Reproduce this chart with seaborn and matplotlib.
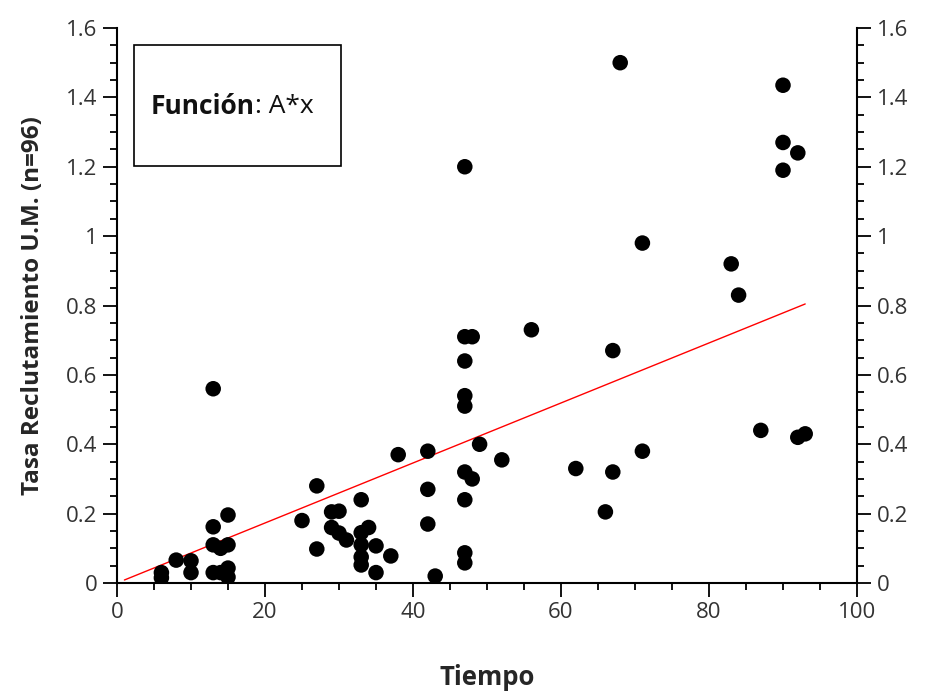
import matplotlib
matplotlib.use("Agg")
import matplotlib.pyplot as plt
import seaborn as sns
import numpy as np
import pandas as pd
from matplotlib.ticker import MultipleLocator, FuncFormatter
from matplotlib.patches import Rectangle

tiempo = [6, 6, 8, 10, 10, 13, 13, 15, 13, 14, 15, 13, 14, 15, 15,
          27, 33, 25, 27, 29, 30, 29, 30, 31, 34, 33, 33, 35, 37, 33, 33, 35,
          38, 42, 42, 42, 43,
          47, 47, 48, 47, 47, 47, 47, 48, 47, 47, 47, 49, 52,
          56, 62, 66, 67, 67, 68, 71, 71,
          83, 84, 87, 90, 90, 92, 90, 92, 93]
tasa = [0.03, 0.015, 0.066, 0.064, 0.03, 0.56, 0.162, 0.196, 0.11, 0.10, 0.11, 0.03, 0.03, 0.043, 0.017,
        0.28, 0.24, 0.18, 0.098, 0.205, 0.207, 0.16, 0.144, 0.124, 0.16, 0.145, 0.11, 0.107, 0.078, 0.075, 0.052, 0.03,
        0.37, 0.38, 0.27, 0.17, 0.02,
        1.20, 0.71, 0.71, 0.64, 0.54, 0.51, 0.32, 0.30, 0.24, 0.087, 0.058, 0.40, 0.355,
        0.73, 0.33, 0.205, 0.67, 0.32, 1.50, 0.98, 0.38,
        0.92, 0.83, 0.44, 1.435, 1.27, 1.24, 1.19, 0.42, 0.43]

coef_A = 0.00865
fit_x_range = [1, 93]

x_label = "Tiempo"
y_label = "Tasa Reclutamiento U.M. (n=96)"

sns.set_style("ticks")
plt.rcParams['font.family'] = ['Open Sans', 'DejaVu Sans']

df = pd.DataFrame({"Tiempo": tiempo, "Tasa": tasa})

fig = plt.figure(figsize=(9.29, 6.96), dpi=100)
ax = fig.add_axes([117/929, 1 - 583/696, 740/929, 555/696])

sns.scatterplot(data=df, x="Tiempo", y="Tasa", ax=ax, color="black",
                s=125, edgecolor="none", zorder=3)

fx = np.linspace(fit_x_range[0], fit_x_range[1], 200)
ax.plot(fx, coef_A * fx, color="red", lw=1.0, zorder=2)

ax.set_xlim(0, 100)
ax.set_ylim(0, 1.6)
ax.xaxis.set_major_locator(MultipleLocator(20))
ax.xaxis.set_minor_locator(MultipleLocator(5))
ax.yaxis.set_major_locator(MultipleLocator(0.2))
ax.yaxis.set_minor_locator(MultipleLocator(0.05))
ax.yaxis.set_major_formatter(FuncFormatter(lambda v, p: f"{v:g}"))

ax.spines['top'].set_visible(False)
for s in ['left', 'right', 'bottom']:
    ax.spines[s].set_visible(True)
    ax.spines[s].set_linewidth(1.5)
    ax.spines[s].set_color("black")

ax.tick_params(which='both', direction='out', left=True, right=True,
               labelleft=True, labelright=True, bottom=True, top=False,
               colors="black", labelcolor="#333333", width=1.3)
ax.tick_params(which='major', length=10, labelsize=16, pad=4)
ax.tick_params(which='minor', length=5)

ax.set_xlabel(x_label, fontsize=18.5, fontweight='bold', labelpad=29)
ax.set_ylabel(y_label, fontsize=17.5, fontweight='bold', labelpad=15)

rect = Rectangle((0.023, 0.751), 0.28, 0.218, transform=ax.transAxes,
                 fill=False, edgecolor="black", lw=1.2, zorder=4)
ax.add_patch(rect)
ax.text(0.186, 0.858, "Función", transform=ax.transAxes, fontsize=19,
        fontweight='bold', ha='right', va='center', color="#111111")
ax.text(0.186, 0.858, ": A*x", transform=ax.transAxes, fontsize=19,
        ha='left', va='center', color="#111111")

fig.savefig("out.png", dpi=100)
